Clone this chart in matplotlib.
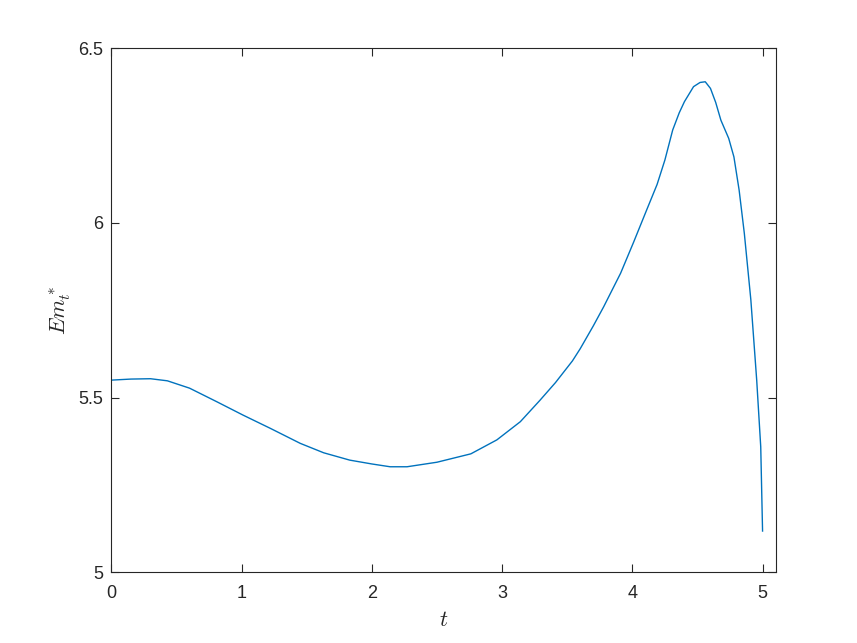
import numpy as np
import matplotlib
matplotlib.use("Agg")
import matplotlib.pyplot as plt

# values
t_vals = [0.0, 0.15, 0.30, 0.43, 0.60, 0.81, 1.01, 1.22, 1.45, 1.63, 1.83,
          2.0, 2.14, 2.27, 2.50, 2.76, 2.96, 3.14, 3.29, 3.41, 3.54, 3.60,
          3.70, 3.78, 3.91, 4.01, 4.11, 4.19, 4.25, 4.31, 4.36, 4.40, 4.47,
          4.52, 4.56, 4.60, 4.64, 4.68, 4.74, 4.78, 4.82, 4.86, 4.91, 4.955,
          4.986, 5.0]
em_vals = [5.550, 5.553, 5.554, 5.548, 5.527, 5.488, 5.450, 5.412, 5.369,
           5.342, 5.321, 5.310, 5.302, 5.302, 5.315, 5.339, 5.379, 5.431,
           5.492, 5.543, 5.605, 5.640, 5.705, 5.760, 5.856, 5.945, 6.037,
           6.110, 6.180, 6.266, 6.315, 6.347, 6.390, 6.402, 6.404, 6.385,
           6.345, 6.294, 6.242, 6.189, 6.094, 5.970, 5.780, 5.550, 5.359,
           5.118]

x_ticks = [0, 1, 2, 3, 4, 5]
y_ticks = [5, 5.5, 6, 6.5]
y_tick_labels = ["5", "5.5", "6", "6.5"]

plt.rcParams['font.family'] = ['Liberation Sans', 'DejaVu Sans']
plt.rcParams['mathtext.fontset'] = 'cm'

AX_COLOR = (0.15, 0.15, 0.15)

fig = plt.figure(figsize=(8.57, 6.43), dpi=100)
ax = fig.add_axes([0.13, 0.11, 0.775, 0.815])

ax.plot(t_vals, em_vals, color=(0, 0.447, 0.741), linewidth=1.0)

ax.set_xlim(0, 5.1)
ax.set_ylim(5, 6.5)
ax.set_xticks(x_ticks)
ax.set_yticks(y_ticks)
ax.set_yticklabels(y_tick_labels)

ax.tick_params(direction='in', top=True, right=True, length=6, width=0.8,
               colors=AX_COLOR, labelsize=13)
ax.tick_params(axis='x', pad=9)
ax.tick_params(axis='y', pad=6)
for sp in ax.spines.values():
    sp.set_color(AX_COLOR)
    sp.set_linewidth(0.8)

ax.set_xlabel(r'$t$', fontsize=16, color=AX_COLOR, labelpad=6)
ax.set_ylabel(r'$Em_t^*$', fontsize=16, color=AX_COLOR, labelpad=4)

fig.savefig("out.png", dpi=100)
